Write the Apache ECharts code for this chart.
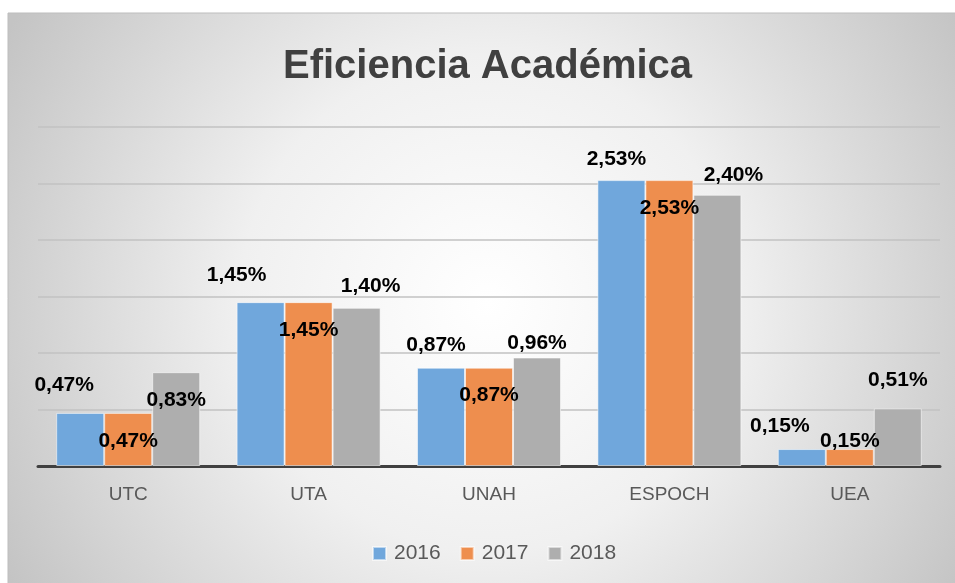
<!DOCTYPE html>
<html>
<head>
<meta charset="utf-8">
<script src="https://cdn.jsdelivr.net/npm/echarts@6/dist/echarts.min.js"></script>
<style>
  html, body { margin: 0; padding: 0; background: #fff; }
  #chart { width: 955px; height: 583px; }
</style>
</head>
<body>
<div id="chart"></div>
<script>
// ── data ──
const categories = ['UTC', 'UTA', 'UNAH', 'ESPOCH', 'UEA']
const years = ['2016', '2017', '2018']
const v2016 = [0.47, 1.45, 0.87, 2.53, 0.15]
const v2017 = [0.47, 1.45, 0.87, 2.53, 0.15]
const v2018 = [0.83, 1.40, 0.96, 2.40, 0.51]

// label nudges (px, relative to bar top centre) — hand placed in the original
const nudge2016 = [[-16, -28], [-24, -27], [-5, -22], [-5, -21], [-22, -23]]
const nudge2017 = [[0, 28], [0, 28], [0, 28], [0, 28], [0, -8]]
const nudge2018 = [[0, 28], [14, -22], [0, -14], [16, -20], [0, -28]]

const colors = ['#70a7dc', '#ee8e4e', '#aeaeae']
const labelFont = { fontFamily: 'Liberation Sans', fontWeight: 'bold', fontSize: 21, color: '#000' }

function makeSeries(name, values, nudges, color) {
  return {
    name,
    type: 'bar',
    barWidth: 48,
    barGap: '0%',
    itemStyle: { color, borderColor: 'rgba(255,255,255,0.55)', borderWidth: 1 },
    data: values.map((v, i) => ({
      value: v,
      label: {
        show: true,
        position: 'top',
        distance: 0,
        offset: [nudges[i][0], nudges[i][1] + 10.5],
        formatter: (p) => p.value.toFixed(2).replace('.', ',') + '%',
        ...labelFont,
      },
    })),
  }
}

const chart = echarts.init(document.getElementById('chart'))
chart.setOption({
  animation: false,
  graphic: [{
    type: 'rect',
    z: -10,
    silent: true,
    shape: { x: 8, y: 13, width: 960, height: 580 },
    style: {
      fill: new echarts.graphic.RadialGradient(0.5, 0.5, 0.95, [
        { offset: 0, color: '#ffffff' },
        { offset: 0.45, color: '#f0f0f0' },
        { offset: 1, color: '#c4c4c4' },
      ]),
      stroke: '#bdbdbd',
      lineWidth: 1,
    },
  }],
  title: {
    text: 'Eficiencia Académica',
    left: 283,
    top: 47,
    padding: 0,
    textStyle: { fontFamily: 'Liberation Sans', fontWeight: 'bold', fontSize: 40, color: '#404040' },
  },
  legend: {
    data: years,
    left: 367,
    top: 538,
    icon: 'rect',
    itemWidth: 13,
    itemHeight: 13,
    itemGap: 19,
    textStyle: { fontFamily: 'Liberation Sans', fontSize: 21, color: '#595959', padding: [0, 0, 0, 3] },
  },
  grid: { left: 38, right: 15, top: 127, bottom: 117 },
  xAxis: {
    type: 'category',
    data: categories,
    axisTick: { show: false },
    axisLine: { lineStyle: { color: '#404040', width: 3 } },
    axisLabel: { margin: 19, fontFamily: 'Liberation Sans', fontSize: 19, color: '#595959' },
  },
  yAxis: {
    type: 'value',
    min: 0,
    max: 3,
    interval: 0.5,
    axisLabel: { show: false },
    axisLine: { show: false },
    axisTick: { show: false },
    splitLine: { lineStyle: { color: '#c2c2c2', width: 1.5 } },
  },
  series: [
    makeSeries(years[0], v2016, nudge2016, colors[0]),
    makeSeries(years[1], v2017, nudge2017, colors[1]),
    makeSeries(years[2], v2018, nudge2018, colors[2]),
  ],
})
</script>
</body>
</html>
